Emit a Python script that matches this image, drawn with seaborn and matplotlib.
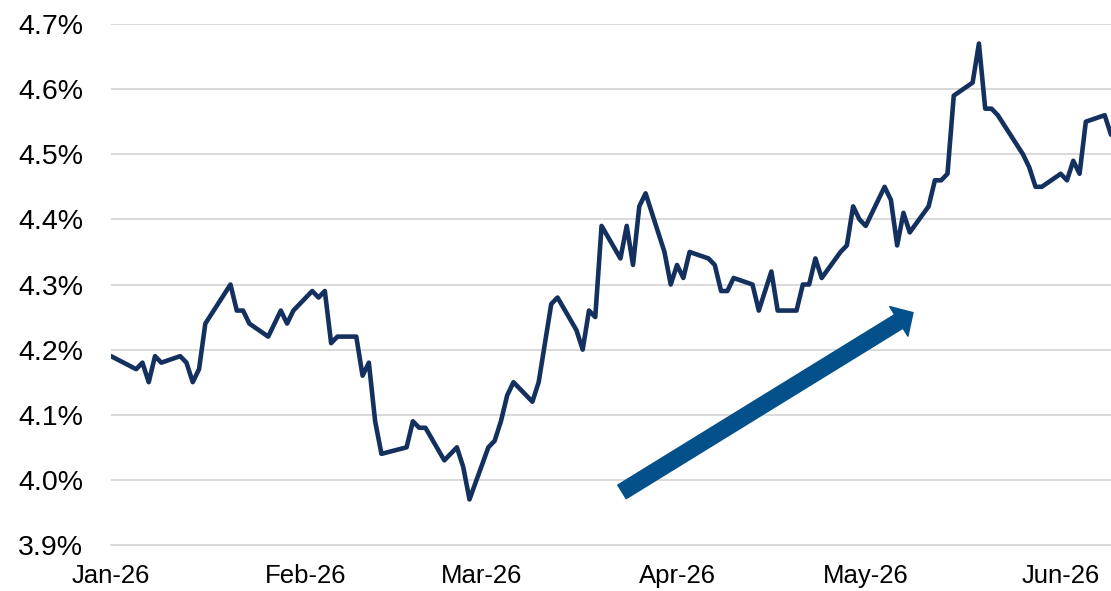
import matplotlib
matplotlib.use("Agg")
import matplotlib.pyplot as plt
import matplotlib.dates as mdates
from matplotlib.patches import FancyArrowPatch
from matplotlib.ticker import FuncFormatter, MultipleLocator
import pandas as pd
import seaborn as sns

# Daily yield observations (%)
dates = [
    "2026-01-01", "2026-01-05", "2026-01-06", "2026-01-07", "2026-01-08", "2026-01-09",
    "2026-01-12", "2026-01-13", "2026-01-14", "2026-01-15", "2026-01-16", "2026-01-20",
    "2026-01-21", "2026-01-22", "2026-01-23", "2026-01-26", "2026-01-28", "2026-01-29",
    "2026-01-30", "2026-02-02", "2026-02-03", "2026-02-04", "2026-02-05", "2026-02-06",
    "2026-02-09", "2026-02-10", "2026-02-11", "2026-02-12", "2026-02-13", "2026-02-17",
    "2026-02-18", "2026-02-19", "2026-02-20", "2026-02-23", "2026-02-25", "2026-02-26",
    "2026-02-27", "2026-03-02", "2026-03-03", "2026-03-04", "2026-03-05", "2026-03-06",
    "2026-03-09", "2026-03-10", "2026-03-12", "2026-03-13", "2026-03-16", "2026-03-17",
    "2026-03-18", "2026-03-19", "2026-03-20", "2026-03-23", "2026-03-24", "2026-03-25",
    "2026-03-26", "2026-03-27", "2026-03-30", "2026-03-31", "2026-04-01", "2026-04-02",
    "2026-04-03", "2026-04-06", "2026-04-07", "2026-04-08", "2026-04-09", "2026-04-10",
    "2026-04-13", "2026-04-14", "2026-04-16", "2026-04-17", "2026-04-20", "2026-04-21",
    "2026-04-22", "2026-04-23", "2026-04-24", "2026-04-27", "2026-04-28", "2026-04-29",
    "2026-04-30", "2026-05-01", "2026-05-04", "2026-05-05", "2026-05-06", "2026-05-07",
    "2026-05-08", "2026-05-11", "2026-05-12", "2026-05-13", "2026-05-14", "2026-05-15",
    "2026-05-18", "2026-05-19", "2026-05-20", "2026-05-21", "2026-05-22", "2026-05-26",
    "2026-05-27", "2026-05-28", "2026-05-29", "2026-06-01", "2026-06-02", "2026-06-03",
    "2026-06-04", "2026-06-05", "2026-06-08", "2026-06-09",
]
yields = [
    4.19, 4.17, 4.18, 4.15, 4.19, 4.18,
    4.19, 4.18, 4.15, 4.17, 4.24, 4.30,
    4.26, 4.26, 4.24, 4.22, 4.26, 4.24,
    4.26, 4.29, 4.28, 4.29, 4.21, 4.22,
    4.22, 4.16, 4.18, 4.09, 4.04, 4.05,
    4.09, 4.08, 4.08, 4.03, 4.05, 4.02,
    3.97, 4.05, 4.06, 4.09, 4.13, 4.15,
    4.12, 4.15, 4.27, 4.28, 4.23, 4.20,
    4.26, 4.25, 4.39, 4.34, 4.39, 4.33,
    4.42, 4.44, 4.35, 4.30, 4.33, 4.31,
    4.35, 4.34, 4.33, 4.29, 4.29, 4.31,
    4.30, 4.26, 4.32, 4.26, 4.26, 4.30,
    4.30, 4.34, 4.31, 4.35, 4.36, 4.42,
    4.40, 4.39, 4.45, 4.43, 4.36, 4.41,
    4.38, 4.42, 4.46, 4.46, 4.47, 4.59,
    4.61, 4.67, 4.57, 4.57, 4.56, 4.50,
    4.48, 4.45, 4.45, 4.47, 4.46, 4.49,
    4.47, 4.55, 4.56, 4.53,
]

y_min, y_max, y_step = 3.9, 4.7, 0.1
x_start, x_end = "2026-01-01", "2026-06-09"

df = pd.DataFrame({"date": pd.to_datetime(dates), "yield": yields})

sns.set_style("white")
plt.rcParams["font.family"] = ["Liberation Sans", "DejaVu Sans"]

line_color = "#13305F"
arrow_color = "#03508B"
grid_color = "#D9D9D9"

fig = plt.figure(figsize=(11.11, 5.91), dpi=100)
ax = fig.add_axes([0.0999, 0.0778, 0.9001, 0.8816])

sns.lineplot(data=df, x="date", y="yield", ax=ax, color=line_color,
             linewidth=3.3, zorder=3, clip_on=True)

ax.set_ylim(y_min, y_max)
ax.set_xlim(pd.Timestamp(x_start), pd.Timestamp(x_end))
ax.yaxis.set_major_locator(MultipleLocator(y_step))
ax.yaxis.set_major_formatter(FuncFormatter(lambda v, _: f"{v:.1f}%"))
ax.xaxis.set_major_locator(mdates.MonthLocator())
ax.xaxis.set_major_formatter(mdates.DateFormatter("%b-%y"))

ax.grid(axis="y", color=grid_color, linewidth=1.4, zorder=0)
ax.grid(axis="x", visible=False)
for side in ("left", "right", "top"):
    ax.spines[side].set_visible(False)
ax.spines["bottom"].set_color(grid_color)
ax.spines["bottom"].set_linewidth(1.4)

ax.tick_params(axis="y", length=0, pad=20, labelsize=20.5, labelcolor="black")
ax.tick_params(axis="x", length=6, width=1.2, color=grid_color, pad=8,
               labelsize=18.5, labelcolor="black", direction="out")
ax.set_xlabel("")
ax.set_ylabel("")

# Trend arrow
arrow = FancyArrowPatch(
    (0.511, 0.102), (0.802, 0.446),
    transform=ax.transAxes,
    arrowstyle="simple,head_length=12,head_width=25,tail_width=11.5",
    color=arrow_color, shrinkA=0, shrinkB=0, zorder=4, clip_on=False,
)
ax.add_patch(arrow)

fig.savefig("out.png", dpi=100)
